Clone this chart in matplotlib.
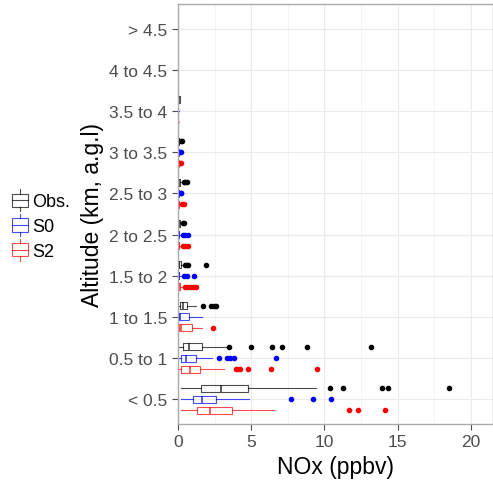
import matplotlib
matplotlib.use('Agg')
import matplotlib.pyplot as plt
from matplotlib.patches import Rectangle
from matplotlib.lines import Line2D
from matplotlib.legend_handler import HandlerBase

plt.rcParams['font.family'] = ['Liberation Sans', 'DejaVu Sans']

altitudes = ['< 0.5', '0.5 to 1', '1 to 1.5', '1.5 to 2', '2 to 2.5',
             '2.5 to 3', '3 to 3.5', '3.5 to 4', '4 to 4.5', '> 4.5']
series = ['Obs.', 'S0', 'S2']
colors = ['black', 'blue', 'red']

# box stats per altitude bin: [whisker low, q1, median, q3, whisker high]
obs_box = [[0.2, 1.6, 2.95, 4.8, 9.4],
           [0.02, 0.32, 0.78, 1.62, 3.3],
           [0.02, 0.14, 0.35, 0.6, 1.2],
           [0.0, 0.05, 0.1, 0.2, 0.4],
           [0.0, 0.03, 0.08, 0.15, 0.3],
           [0.0, 0.03, 0.08, 0.15, 0.3],
           [0.0, 0.02, 0.05, 0.1, 0.18],
           [0.0, 0.03, 0.08, 0.15, 0.15]]
obs_out = [[10.4, 11.25, 13.95, 14.35, 18.5],
           [3.5, 5.0, 6.4, 7.1, 8.8, 13.2],
           [1.7, 2.25, 2.45, 2.6],
           [0.5, 0.6, 0.7, 1.9],
           [0.35, 0.41],
           [0.4, 0.5, 0.6],
           [0.22, 0.27],
           []]
s0_box = [[0.2, 1.0, 1.67, 2.58, 4.88],
          [0.02, 0.18, 0.53, 1.21, 2.35],
          [0.02, 0.05, 0.14, 0.78, 1.62],
          [0.0, 0.02, 0.05, 0.1, 0.25],
          [0.0, 0.02, 0.05, 0.1, 0.2],
          [0.0, 0.02, 0.04, 0.08, 0.15],
          [0.0, 0.01, 0.03, 0.06, 0.12],
          [0.0, 0.01, 0.02, 0.03, 0.06]]
s0_out = [[7.72, 9.22, 10.46],
          [2.81, 3.33, 3.56, 3.84, 6.67],
          [],
          [0.39, 0.62, 1.07],
          [0.35, 0.5, 0.68],
          [0.2, 0.23],
          [0.16, 0.18],
          []]
s2_box = [[0.2, 1.32, 2.17, 3.68, 6.58],
          [0.02, 0.18, 0.84, 1.5, 3.15],
          [0.02, 0.05, 0.2, 0.98, 1.67],
          [0.0, 0.02, 0.06, 0.15, 0.3],
          [0.0, 0.02, 0.05, 0.1, 0.25],
          [0.0, 0.02, 0.05, 0.1, 0.2],
          [0.0, 0.01, 0.03, 0.06, 0.12],
          [0.0, 0.01, 0.02, 0.03, 0.06]]
s2_out = [[11.7, 12.28, 14.16],
          [3.95, 4.1, 4.25, 4.75, 6.35, 9.5],
          [2.42],
          [0.45, 0.65, 0.85, 1.05, 1.25],
          [0.35, 0.5, 0.68],
          [0.3, 0.4],
          [0.16, 0.18],
          []]

boxes = [obs_box, s0_box, s2_box]
outs = [obs_out, s0_out, s2_out]
offsets = [0.27, 0.0, -0.27]


class BoxHandler(HandlerBase):
    def create_artists(self, legend, orig_handle, xdescent, ydescent,
                       width, height, fontsize, trans):
        c = orig_handle.get_color()
        cx = width / 2 - xdescent
        bw = width * 0.95
        y0 = -ydescent
        kw = dict(color=c, lw=0.8, alpha=0.7, transform=trans)
        rect = Rectangle((cx - bw / 2, y0 + height * 0.2), bw, height * 0.6,
                         fill=False, edgecolor=c, lw=0.8, alpha=0.7, transform=trans)
        mid = Line2D([cx - bw / 2, cx + bw / 2], [y0 + height * 0.5] * 2, **kw)
        w1 = Line2D([cx, cx], [y0, y0 + height * 0.2], **kw)
        w2 = Line2D([cx, cx], [y0 + height * 0.8, y0 + height], **kw)
        return [rect, mid, w1, w2]


fig = plt.figure(figsize=(4.93, 4.89), dpi=100)
ax = fig.add_axes([0.361, 0.131, 0.639, 0.859])

for k in range(3):
    stats = []
    for i, b in enumerate(boxes[k]):
        stats.append(dict(whislo=b[0], q1=b[1], med=b[2], q3=b[3], whishi=b[4],
                          fliers=outs[k][i]))
    pos = [i + 1 + offsets[k] for i in range(len(stats))]
    c = colors[k]
    ax.bxp(stats, positions=pos, widths=0.17, orientation='horizontal',
           showcaps=False, manage_ticks=False,
           boxprops=dict(color=c, lw=0.8, alpha=0.7),
           medianprops=dict(color=c, lw=1.1, alpha=0.8),
           whiskerprops=dict(color=c, lw=0.8, alpha=0.7),
           flierprops=dict(marker='o', markersize=3, markerfacecolor=c,
                           markeredgecolor=c, linestyle='none'))

ax.set_xlim(0, 21.5)
ax.set_ylim(0.4, 10.6)
ax.set_yticks(range(1, len(altitudes) + 1))
ax.set_yticklabels(altitudes)
ax.set_xticks([0, 5, 10, 15, 20])
ax.set_xticks([2.5, 7.5, 12.5, 17.5], minor=True)
ax.grid(True, which='major', color='#EBEBEB', lw=0.8)
ax.grid(True, which='minor', axis='x', color='#F4F4F4', lw=0.6)
ax.set_axisbelow(True)
ax.tick_params(axis='both', which='major', labelsize=12.5, colors='#4D4D4D',
               length=4, width=0.8, labelcolor='#4D4D4D')
ax.tick_params(which='minor', length=0)
for s in ax.spines.values():
    s.set_color('#AAAAAA')
    s.set_linewidth(1.0)

ax.set_xlabel('NOx (ppbv)', fontsize=16.5)
ax.set_ylabel('Altitude (km, a.g.l)', fontsize=16.5)

handles = [Line2D([], [], color=c) for c in colors]
fig.legend(handles, series, loc='center left', bbox_to_anchor=(0.005, 0.538),
           handler_map={Line2D: BoxHandler()}, frameon=False, fontsize=13,
           handlelength=0.95, handleheight=1.5, handletextpad=0.2,
           labelspacing=0.15, borderpad=0.0)

fig.savefig('out.png', dpi=100)
